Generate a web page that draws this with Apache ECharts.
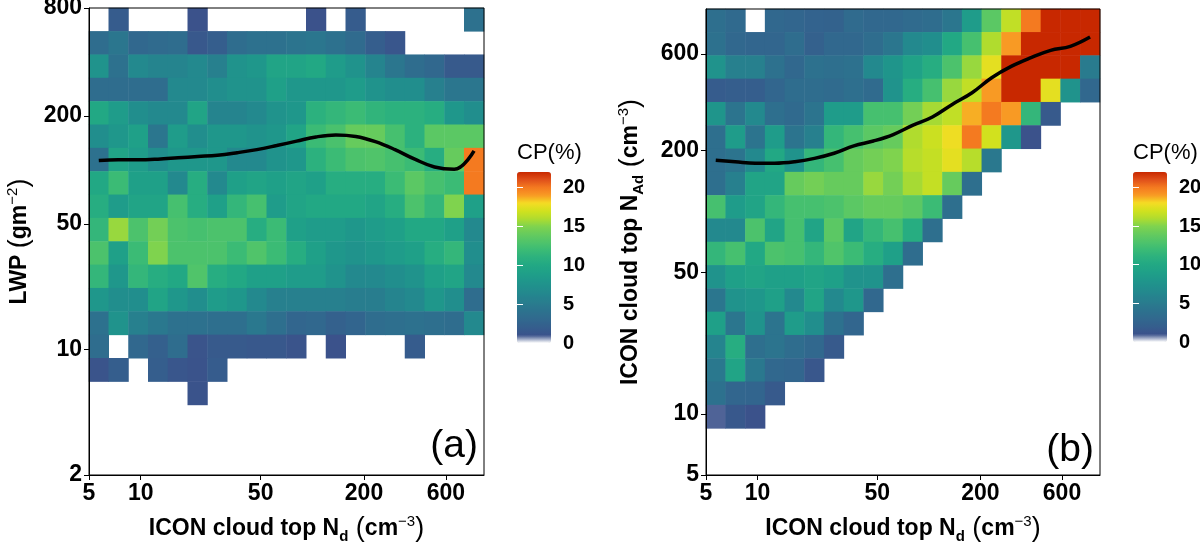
<!DOCTYPE html>
<html>
<head>
<meta charset="utf-8">
<script src="https://cdn.jsdelivr.net/npm/echarts@6/dist/echarts.min.js"></script>
<style>
  html, body { margin: 0; padding: 0; background: #fff; }
  #main_chart { width: 1200px; height: 542px; }
</style>
</head>
<body>
<div id="main_chart"></div>
<script>
// bin centres (cm-3 and g m-2)
var ndBins  = [5.7, 7.4, 9.7, 12.6, 16.5, 21.5, 28, 36.5, 47.5, 62, 81, 105, 137, 179, 233, 303, 395, 515, 671, 875];
var lwpBins = [2.3, 3.1, 4.2, 5.7, 7.7, 10.4, 14, 18.9, 25.5, 34.4, 46.4, 62.6, 84.4, 114, 154, 207, 280, 377, 509, 687];
var nadBins = [5.7, 7.4, 9.7, 12.6, 16.5, 21.5, 28, 36.5, 47.5, 62, 81, 105, 137, 179, 233, 303, 395, 515, 671, 875];

// tick labels
var ndTicks  = [5, 10, 50, 200, 600];
var lwpTicks = [2, 10, 50, 200, 800];
var nadTicks = [5, 10, 50, 200, 600];
var cpTicks  = [0, 5, 10, 15, 20];

// mean curves (one point per Nd bin)
var lwpMean = [113, 114, 114, 115, 117, 119, 121, 125, 130, 137, 145, 153, 157, 154, 144, 130, 115, 104, 101, 128];
var nadMean = [179, 176, 173, 173, 176, 183, 194, 211, 223, 240, 267, 293, 338, 386, 458, 521, 575, 625, 654, 727];

// CP(%) per cell, rows listed from the top of the panel down, 0 = empty
var cpLwp = [
  [0,1.8,0,0,0,1,0,0,0,0,0,1,0,1.8,0,0,0,0,0,4],
  [3.5,4.5,3,3.3,3.5,1.5,2,3.5,4,4,4.3,4.5,4,3.3,2,1.3,0,0,0,0],
  [7.5,4,6.5,6,6,6.5,5.5,7.5,8,9.5,9.5,10,8.5,7.5,6,4.5,3.5,3,1.7,1.7],
  [3.5,3.5,3.5,3.5,6.5,6.5,7,7.5,7.5,9,8,8,8,8.5,7.5,7,7,5.5,4.5,4.5],
  [10,8.5,7,6.5,6.5,9.5,6,6,6.5,7.5,8,11,11.5,12,11.3,11,11,10.5,8,7],
  [7,8,9,4.5,8.5,7,8,8,7.5,8,9.5,12,12.7,14,14,12.5,11,13.5,13.5,13.5],
  [4,9.5,8.5,7,8,8,8,6.5,6.5,7.5,8,11,12,12.8,13,12.5,12,10.5,14,20],
  [10,12,9,9,6.5,10.5,6.5,9,9.5,9,9.5,9,10.5,10.5,10.5,12,13.5,12.5,12,20],
  [10.5,8.5,9.5,9.5,12.5,10.5,9,11.5,12.5,8.5,9.5,10,10,10,9.5,10.5,12.8,11.5,15,9],
  [11.5,15.5,12.8,14.5,12.8,12.5,12.8,12.8,10.5,12,9,8.5,8.5,8,8.5,9,10,10,9,6.5],
  [12.8,9,12,15,12.8,12.8,12.8,12,13,12,10.5,9,8,7.5,8,8.5,9,10.5,11.5,7],
  [11.5,8,11.5,10.5,10,13,10.5,10,9,9,8.5,8.5,7.5,6.5,6.5,7,7.5,9,9.5,6.5],
  [8,7,7,9.5,8,7,8.5,8,6.5,5.5,5.5,5.5,5.5,5.2,5.2,6,6.5,8,7,3.5],
  [4,7.5,5.5,4.7,4,4,3.8,3.8,4.7,3.8,2.8,3,2.3,2.7,3.5,3.8,4,3.8,3.5,6.5],
  [3.5,0,3,2.2,3.5,1.2,1.7,1.7,1.5,1.5,1.2,0,1,0,0,0,1.8,0,0,0],
  [1.2,2,0,2,1.3,1.1,1.8,0,0,0,0,0,0,0,0,0,0,0,0,0],
  [0,0,0,0,0,1.1,0,0,0,0,0,0,0,0,0,0,0,0,0,0],
  [0,0,0,0,0,0,0,0,0,0,0,0,0,0,0,0,0,0,0,0],
  [0,0,0,0,0,0,0,0,0,0,0,0,0,0,0,0,0,0,0,0],
  [0,0,0,0,0,0,0,0,0,0,0,0,0,0,0,0,0,0,0,0]
];
var cpNad = [
  [3.8,3.2,0,3,2.8,2.5,2.4,3.3,3,3,3.3,3.5,4.5,8.5,13.5,16.5,20,22,22,22],
  [4,3,2.8,2.8,3.5,2.3,3,3,3.5,4.5,6.5,7,10,12.5,16,19,22,22,22,22],
  [7.5,5.5,5.5,4,3,4,3.8,4,6.5,7.8,9.3,10.5,12.8,15.5,17.5,22,22,22,22,5],
  [1.8,2,2,2.8,3.5,3.5,3.3,3.8,3.3,7.5,10.5,12.5,15.5,16.5,19,22,22,17.5,7.5,3],
  [7.8,4.3,6.5,3.8,3.2,4.3,8.5,8.5,12.5,12.5,14.5,15.8,16.5,18.7,20,19,11.5,1.7,0,0],
  [3.8,8.5,4.3,8.5,4.3,5.5,11.5,12.5,13.5,14,16,16.8,17.8,20,17,8,1,0,0,0],
  [3.8,4.3,6.5,10,7.5,11.5,12.5,14,14.5,15,16.2,16.6,17.5,16.2,4.7,0,0,0,0,0],
  [3.8,5.5,9.5,9.5,14,14.5,14,14,15.5,14.5,15.8,16.6,14,3.8,0,0,0,0,0,0],
  [12.5,8.5,9.5,11.5,12.5,12.5,12.8,13.5,14,14,13.5,12,3.8,0,0,0,0,0,0,0],
  [6.5,6.5,12.8,9.5,12.5,9.5,13.5,9.5,11.5,12.5,10.5,3.8,0,0,0,0,0,0,0,0],
  [11.5,12.5,10,12.8,12.5,11.5,13,12,10.5,9,3.5,0,0,0,0,0,0,0,0,0],
  [7.5,9,9.5,9,9,9.5,9,7.5,7.5,3.8,0,0,0,0,0,0,0,0,0,0],
  [4.5,7.5,8,9,6.5,9.5,6.5,8,3,0,0,0,0,0,0,0,0,0,0,0],
  [9,4.5,7.5,4.3,8.5,7,4,2.8,0,0,0,0,0,0,0,0,0,0,0,0],
  [6,10.5,3.8,4.3,3.5,3,1.7,0,0,0,0,0,0,0,0,0,0,0,0,0],
  [4.7,9.5,4.7,3,2.8,1.4,0,0,0,0,0,0,0,0,0,0,0,0,0,0],
  [4,2.8,2.7,1.7,0,0,0,0,0,0,0,0,0,0,0,0,0,0,0,0],
  [0.9,1.5,1,0,0,0,0,0,0,0,0,0,0,0,0,0,0,0,0,0],
  [0,0,0,0,0,0,0,0,0,0,0,0,0,0,0,0,0,0,0,0],
  [0,0,0,0,0,0,0,0,0,0,0,0,0,0,0,0,0,0,0,0]
];

var FONT = 'Liberation Sans, Arial, sans-serif';
var cpColors = ['#ffffff','#3b528b','#355e8d','#31688e','#2d718e','#297b8e','#25848e','#218e8d',
  '#1f978b','#1fa088','#22a884','#2cb17e','#3bbb75','#50c46a','#66cb5d','#7fd34e',
  '#b0dc2e','#d2e11e','#f5dc24','#f89a24','#f47a20','#e0501a','#c82800'];

// 表格行 -> heatmap 数据 [x, y, v]
function toCells(rows){
  var out = [];
  for(var t=0;t<rows.length;t++){
    for(var c=0;c<rows[t].length;c++){
      if(rows[t][c]>0){
        out.push([c, rows.length-1-t, rows[t][c]]);
      }
    }
  }
  return out;
}
function toLine(xs, ys){
  var out = [];
  for(var i=0;i<xs.length;i++){ out.push([xs[i], ys[i]]); }
  return out;
}

var richName = {
  b:   { fontFamily: FONT, fontWeight: 'bold', fontSize: 23, lineHeight: 30, color: '#000' },
  sub: { fontFamily: FONT, fontWeight: 'bold', fontSize: 15, lineHeight: 14, verticalAlign: 'bottom', color: '#000' },
  sup: { fontFamily: FONT, fontSize: 15, lineHeight: 14, verticalAlign: 'top', color: '#000' },
  p:   { fontFamily: FONT, fontSize: 27, lineHeight: 30, color: '#000' }
};

function logAxis(grid, minV, maxV, ticks, name, gap, rotate){
  return {
    type: 'log', logBase: 10, gridIndex: grid, min: minV, max: maxV, z: 10,
    name: name, nameLocation: 'middle', nameGap: gap, nameRotate: rotate,
    nameTextStyle: { rich: richName },
    axisLine: { show: true, lineStyle: { color: '#000', width: 1 } },
    axisTick: { show: true, length: 5, lineStyle: { color: '#000' }, customValues: ticks },
    axisLabel: { color: '#000', fontFamily: FONT, fontWeight: 'bold', fontSize: 23, margin: 7, customValues: ticks },
    splitLine: { show: false }, minorTick: { show: false }
  };
}
function catAxis(grid, cats){
  return { type: 'category', gridIndex: grid, data: cats, show: false };
}
function cbAxis(grid, pos, withLabels){
  return {
    type: 'value', gridIndex: grid, min: 0, max: 22, position: pos, z: 10,
    axisLine: { show: false },
    axisTick: { show: true, inside: true, length: 6, lineStyle: { color: '#fff', width: 1 }, customValues: cpTicks },
    axisLabel: { show: withLabels, color: '#000', fontFamily: FONT, fontWeight: 'bold', fontSize: 20, margin: 12, customValues: cpTicks },
    splitLine: { show: false }
  };
}

var xName  = '{b|ICON cloud top N}{sub|d}{p| (}{b|cm}{sup|−3}{p|)}';
var lwpName = '{b|LWP }{p|(}{b|gm}{sup|−2}{p|)}';
var nadName = '{b|ICON cloud top N}{sub|Ad}{p| (}{b|cm}{sup|−3}{p|)}';

var myChart = echarts.init(document.getElementById('main_chart'));
var option = {
  animation: false,
  textStyle: { fontFamily: FONT },
  grid: [
    { left: 89, top: 8, width: 395, height: 467, outerBoundsMode: 'none', show: true, borderColor: '#000', borderWidth: 1, z: 10 },
    { left: 89, top: 8, width: 395, height: 467, outerBoundsMode: 'none' },
    { left: 706, top: 9, width: 394, height: 466, outerBoundsMode: 'none', show: true, borderColor: '#000', borderWidth: 1, z: 10 },
    { left: 706, top: 9, width: 394, height: 466, outerBoundsMode: 'none' },
    { left: 517, top: 172, width: 34, height: 171, outerBoundsMode: 'none' },
    { left: 1133, top: 172, width: 34, height: 170, outerBoundsMode: 'none' }
  ],
  xAxis: [
    logAxis(0, 5, 1000, ndTicks, xName, 39, 0),
    catAxis(1, ndBins),
    logAxis(2, 5, 1000, ndTicks, xName, 39, 0),
    catAxis(3, ndBins),
    { type: 'value', gridIndex: 4, show: false },
    { type: 'value', gridIndex: 5, show: false }
  ],
  yAxis: [
    logAxis(0, 2, 800, lwpTicks, lwpName, 54, 90),
    catAxis(1, lwpBins),
    logAxis(2, 5, 1000, nadTicks, nadName, 60, 90),
    catAxis(3, nadBins),
    cbAxis(4, 'right', true),
    cbAxis(4, 'left', false),
    cbAxis(5, 'right', true),
    cbAxis(5, 'left', false)
  ],
  visualMap: [
    { type: 'continuous', seriesIndex: 0, min: 0, max: 22, calculable: false, padding: 0,
      left: 517, top: 172, itemWidth: 34, itemHeight: 171, inRange: { color: cpColors } },
    { type: 'continuous', seriesIndex: 1, min: 0, max: 22, calculable: false, padding: 0,
      left: 1133, top: 172, itemWidth: 34, itemHeight: 170, inRange: { color: cpColors } }
  ],
  graphic: [
    { type: 'text', x: 517, y: 153, style: { text: 'CP(%)', font: '22px ' + FONT, fill: '#000', textVerticalAlign: 'middle' } },
    { type: 'text', x: 1133, y: 153, style: { text: 'CP(%)', font: '22px ' + FONT, fill: '#000', textVerticalAlign: 'middle' } },
    { type: 'text', x: 478, y: 446, z: 20, style: { text: '(a)', font: '39px ' + FONT, fill: '#000', textAlign: 'right', textVerticalAlign: 'middle' } },
    { type: 'text', x: 1094, y: 450, z: 20, style: { text: '(b)', font: '39px ' + FONT, fill: '#000', textAlign: 'right', textVerticalAlign: 'middle' } }
  ],
  series: [
    { type: 'heatmap', xAxisIndex: 1, yAxisIndex: 1, data: toCells(cpLwp) },
    { type: 'heatmap', xAxisIndex: 3, yAxisIndex: 3, data: toCells(cpNad) },
    { type: 'line', xAxisIndex: 0, yAxisIndex: 0, z: 5, data: toLine(ndBins, lwpMean),
      smooth: 0.4, showSymbol: false, lineStyle: { color: '#000', width: 3.5 } },
    { type: 'line', xAxisIndex: 2, yAxisIndex: 2, z: 5, data: toLine(ndBins, nadMean),
      smooth: 0.4, showSymbol: false, lineStyle: { color: '#000', width: 3.5 } }
  ]
};
myChart.setOption(option);
window.onresize = function(){ myChart.resize(); };
</script>
</body>
</html>
